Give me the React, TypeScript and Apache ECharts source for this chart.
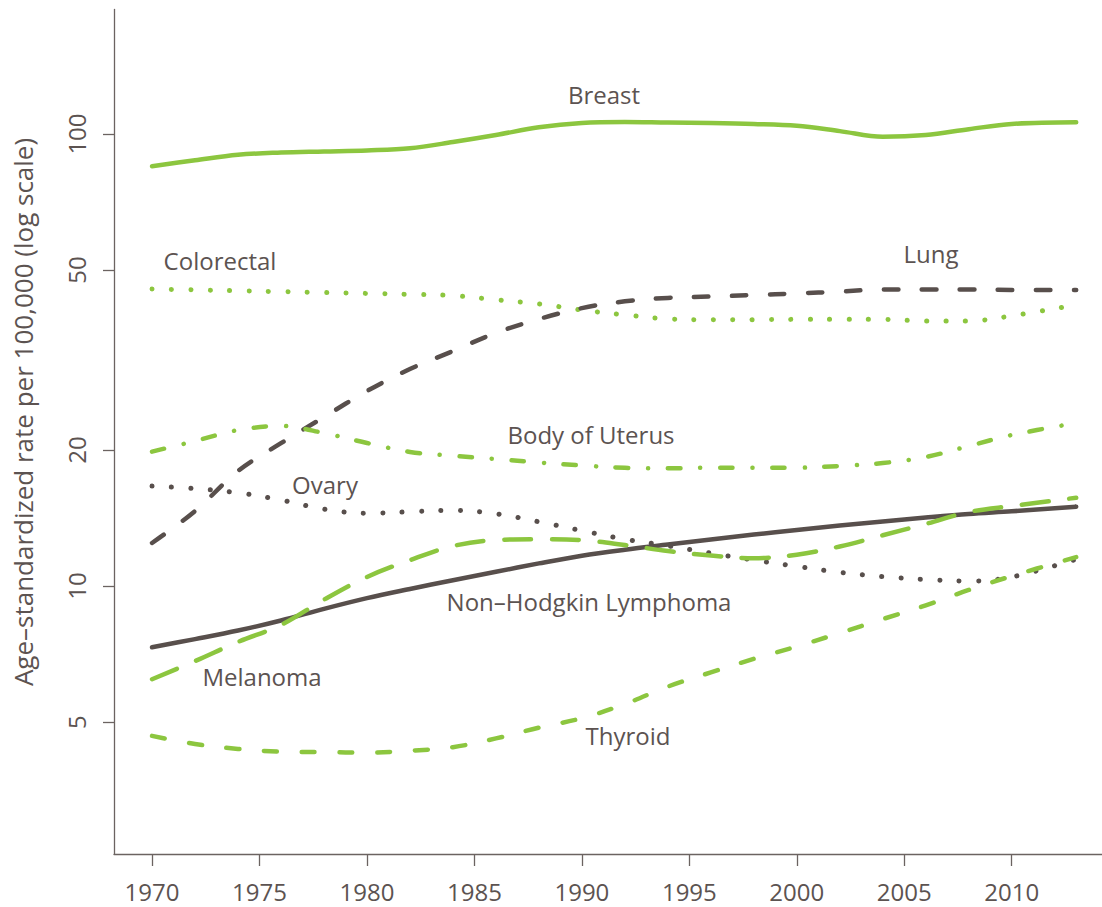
import React, { useEffect, useRef } from 'react';
import * as echarts from 'echarts';

const YEARS = [1970, 1972, 1974, 1976, 1978, 1980, 1982, 1984, 1986, 1988, 1990, 1992, 1994, 1996, 1998, 2000, 2002, 2004, 2006, 2008, 2010, 2013];

const BREAST = [84.9, 87.5, 90.0, 91.0, 91.5, 92.0, 93.0, 96.0, 99.5, 103.5, 105.8, 106.3, 106.0, 105.8, 105.3, 104.3, 101.5, 98.6, 99.5, 102.5, 105.3, 106.2];
const COLORECTAL = [45.4, 45.2, 45.0, 44.8, 44.6, 44.4, 44.2, 43.9, 43.0, 42.1, 40.8, 39.8, 39.0, 38.8, 38.85, 38.9, 38.9, 38.9, 38.6, 38.6, 39.6, 41.9];
const LUNG = [12.45, 14.65, 17.97, 20.7, 23.65, 27.0, 30.2, 33.1, 36.3, 38.97, 41.2, 42.65, 43.4, 43.7, 44.04, 44.4, 44.8, 45.3, 45.3, 45.3, 45.2, 45.2];
const UTERUS = [19.83, 20.93, 22.13, 22.6, 21.8, 20.72, 19.8, 19.41, 19.1, 18.76, 18.48, 18.26, 18.22, 18.27, 18.27, 18.27, 18.43, 18.71, 19.29, 20.4, 21.58, 22.94];
const OVARY = [16.64, 16.43, 16.08, 15.5, 14.79, 14.48, 14.6, 14.7, 14.45, 13.87, 13.26, 12.69, 12.27, 11.82, 11.41, 11.05, 10.72, 10.49, 10.34, 10.25, 10.47, 11.46];
const NHL = [7.32, 7.63, 7.97, 8.39, 8.9, 9.4, 9.85, 10.3, 10.75, 11.22, 11.67, 12.03, 12.35, 12.67, 13.0, 13.3, 13.61, 13.89, 14.17, 14.43, 14.63, 14.98];
const MELANOMA = [6.22, 6.82, 7.52, 8.2, 9.33, 10.47, 11.41, 12.26, 12.64, 12.69, 12.63, 12.32, 11.95, 11.68, 11.52, 11.73, 12.23, 12.95, 13.72, 14.58, 15.03, 15.68];
const THYROID = [4.66, 4.47, 4.36, 4.30, 4.29, 4.28, 4.32, 4.40, 4.60, 4.86, 5.10, 5.48, 5.99, 6.44, 6.90, 7.35, 7.87, 8.45, 9.06, 9.80, 10.52, 11.59];

const X_TICKS = [1970, 1975, 1980, 1985, 1990, 1995, 2000, 2005, 2010];
const Y_TICKS = [5, 10, 20, 50, 100];
const X_MIN = 1968.23;
const X_MAX = 2014.2;
const Y_MIN = 2.553;
const Y_MAX = 188.6;

const LABELS = [
  { text: 'Breast', x: 604, y: 94 },
  { text: 'Colorectal', x: 220, y: 260 },
  { text: 'Lung', x: 931, y: 253 },
  { text: 'Body of Uterus', x: 591, y: 434 },
  { text: 'Ovary', x: 325, y: 484 },
  { text: 'Non\u2013Hodgkin Lymphoma', x: 589, y: 601 },
  { text: 'Melanoma', x: 262, y: 676 },
  { text: 'Thyroid', x: 628, y: 735 },
];

const GREEN = '#8cc63f';
const DARK = '#584f4c';
const TEXT = '#5c5351';
const AXIS = '#6b6361';
const FONT = '"Open Sans", sans-serif';

const toData = (vals: number[]) => YEARS.map((yr, i) => [yr, Math.log10(vals[i])]);

const mk = (name: string, vals: number[], color: string, type: any, width = 4.5) => ({
  name,
  type: 'line',
  data: toData(vals),
  smooth: 0.35,
  showSymbol: false,
  symbol: 'none',
  silent: true,
  lineStyle: { color, width, type, cap: 'round', join: 'round' },
});

export default function App() {
  const ref = useRef<HTMLDivElement>(null);
  useEffect(() => {
    if (!ref.current) return;
    const chart = echarts.init(ref.current, undefined, { renderer: 'svg' });
    const lg = (v: number) => Math.log10(v);
    chart.setOption({
      animation: false,
      grid: { left: 114, right: 0, top: 9.5, bottom: 53, containLabel: false },
      xAxis: {
        type: 'value',
        min: X_MIN,
        max: X_MAX,
        splitLine: { show: false },
        axisLine: { show: true, lineStyle: { color: AXIS, width: 1.3 } },
        axisTick: { show: true, length: 12, customValues: X_TICKS, lineStyle: { color: AXIS, width: 1.3 } },
        axisLabel: { show: true, customValues: X_TICKS, margin: 25, color: TEXT, fontSize: 24, fontFamily: FONT, formatter: (v: number) => String(Math.round(v)) },
      },
      yAxis: {
        type: 'value',
        min: lg(Y_MIN),
        max: lg(Y_MAX),
        splitLine: { show: false },
        axisLine: { show: true, lineStyle: { color: AXIS, width: 1.3 } },
        axisTick: { show: true, length: 11, customValues: Y_TICKS.map(lg), lineStyle: { color: AXIS, width: 1.3 } },
        axisLabel: { show: true, customValues: Y_TICKS.map(lg), rotate: 90, margin: 26, color: TEXT, fontSize: 24, fontFamily: FONT, formatter: (v: number) => String(Math.round(Math.pow(10, v))) },
      },
      series: [
        mk('Breast', BREAST, GREEN, 'solid'),
        mk('Colorectal', COLORECTAL, GREEN, [0.1, 19.3], 5),
        mk('Lung', LUNG, DARK, [14.5, 23.5]),
        mk('Body of Uterus', UTERUS, GREEN, [12.5, 20, 0.1, 19.6]),
        mk('Ovary', OVARY, DARK, [0.1, 19.3], 5),
        mk('Non-Hodgkin Lymphoma', NHL, DARK, 'solid'),
        mk('Melanoma', MELANOMA, GREEN, [27, 20.7]),
        mk('Thyroid', THYROID, GREEN, [13, 24.7]),
      ],
      graphic: [
        ...LABELS.map((l) => ({
          type: 'text',
          x: l.x,
          y: l.y,
          silent: true,
          style: {
            text: l.text,
            fill: TEXT,
            font: `24px ${FONT}`,
            align: 'center',
            verticalAlign: 'middle',
            textAlign: 'center',
            textVerticalAlign: 'middle',
          },
        })),
        {
          type: 'text',
          x: 23,
          y: 412,
          rotation: Math.PI / 2,
          silent: true,
          style: {
            text: 'Age\u2013standardized rate per 100,000 (log scale)',
            fill: TEXT,
            font: `26px ${FONT}`,
            align: 'center',
            verticalAlign: 'middle',
            textAlign: 'center',
            textVerticalAlign: 'middle',
          },
        },
      ],
    });
    return () => chart.dispose();
  }, []);
  return (
    <div
      ref={ref}
      style={{ position: 'absolute', left: 0, top: 0, width: 1102, height: 907, background: '#fff' }}
    />
  );
}
